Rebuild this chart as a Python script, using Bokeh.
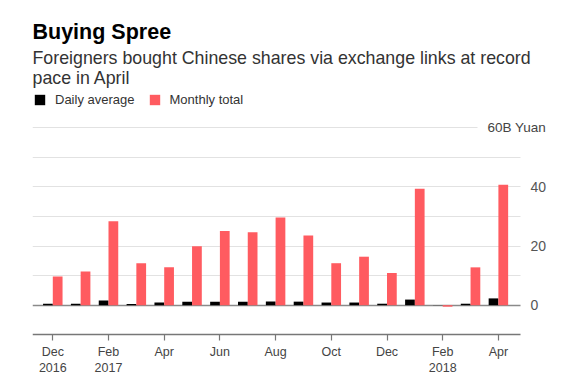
from bokeh.plotting import figure
from bokeh.models import (Range1d, FixedTicker, Label, Legend, LegendItem,
                          ColumnDataSource, Grid)
from bokeh.transform import dodge
from bokeh.embed import file_html
from bokeh.resources import INLINE

# ---- data (billion yuan) ----
months = ["Dec 2016", "Jan 2017", "Feb 2017", "Mar 2017", "Apr 2017", "May 2017",
          "Jun 2017", "Jul 2017", "Aug 2017", "Sep 2017", "Oct 2017", "Nov 2017",
          "Dec 2017", "Jan 2018", "Feb 2018", "Mar 2018", "Apr 2018"]
daily_average = [0.45, 0.45, 1.6, 0.4, 0.9, 1.2, 1.2, 1.2, 1.25, 1.2, 0.9, 0.9,
                 0.5, 1.9, -0.05, 0.5, 2.3]
monthly_total = [9.7, 11.4, 28.4, 14.2, 12.8, 19.9, 25.1, 24.7, 29.7, 23.6, 14.2,
                 16.4, 10.9, 39.4, -0.5, 12.8, 40.7]
x_tick_labels = {0: "Dec\n2016", 2: "Feb\n2017", 4: "Apr", 6: "Jun", 8: "Aug",
                 10: "Oct", 12: "Dec", 14: "Feb\n2018", 16: "Apr"}
y_tick_values = [0, 20, 40]
grid_values = [10, 20, 30, 40, 50, 60]

FONT = "Liberation Sans"
RED = "#ff5b60"

# ---- page geometry (pixels, page origin = canvas origin) ----
W, H = 565, 381
FRAME_L = 32                       # x of frame left
FRAME_R = W                        # frame runs to the canvas right edge
FRAME_B = H                        # frame runs to the canvas bottom edge
PLOT_R = 520                       # right end of gridlines / axis line
AXIS_Y = 334                       # y of bottom axis line
X0_PX, PX_PER_MONTH = 52.3, 27.85
Y0_PX, PX_PER_UNIT = 304.7, 2.957

def xdata(px):
    return (px - X0_PX) / PX_PER_MONTH

def ydata(py):
    return (Y0_PX - py) / PX_PER_UNIT

def sx(px):
    return px - FRAME_L

def sy(py):
    return FRAME_B - py

src = ColumnDataSource(dict(idx=list(range(len(months))), month=months,
                            daily=daily_average, total=monthly_total))

p = figure(width=W, height=H, output_backend="svg", toolbar_location=None,
           y_axis_location="right",
           x_range=Range1d(xdata(FRAME_L), xdata(FRAME_R)),
           y_range=Range1d(ydata(FRAME_B), ydata(0)),
           min_border_left=FRAME_L, min_border_right=0,
           min_border_top=0, min_border_bottom=0)
p.title.visible = False
p.outline_line_color = None
p.background_fill_color = "white"

black = p.vbar(x=dodge("idx", -0.175), top="daily", bottom=0, width=0.35,
               source=src, fill_color="black", line_color=None)
red = p.vbar(x=dodge("idx", 0.175), top="total", bottom=0, width=0.35,
             source=src, fill_color=RED, line_color=None)

# grid
cross = (xdata(FRAME_L), xdata(PLOT_R))
p.xgrid.visible = False
p.ygrid.ticker = FixedTicker(ticks=grid_values)
p.ygrid.grid_line_color = "#e2e2e2"
p.ygrid.grid_line_width = 1.2
p.ygrid.cross_bounds = cross
zero = Grid(dimension=1, ticker=FixedTicker(ticks=[0]), grid_line_color="#8a8a8a",
            grid_line_width=1.5, cross_bounds=cross)
p.add_layout(zero)

# right axis
ya = p.yaxis[0]
ya.fixed_location = xdata(PLOT_R)
ya.ticker = FixedTicker(ticks=y_tick_values)
ya.axis_line_color = None
ya.major_tick_line_color = None
ya.minor_tick_line_color = None
ya.major_tick_in = 0
ya.major_tick_out = 0
ya.major_label_standoff = 10
ya.major_label_text_font = FONT
ya.major_label_text_font_size = "14px"
ya.major_label_text_color = "#555555"

# bottom axis
xa = p.xaxis[0]
xa.fixed_location = ydata(AXIS_Y)
xa.bounds = cross
xa.ticker = FixedTicker(ticks=list(x_tick_labels.keys()))
xa.major_label_overrides = x_tick_labels
xa.axis_line_color = "#777777"
xa.axis_line_width = 1.5
xa.major_tick_line_color = "#777777"
xa.major_tick_line_width = 1.2
xa.major_tick_in = 0
xa.major_tick_out = 6
xa.minor_tick_line_color = None
xa.major_label_standoff = 4
xa.major_label_text_font = FONT
xa.major_label_text_font_size = "12.5px"
xa.major_label_text_line_height = 1.15
xa.major_label_text_color = "#444444"

p.add_layout(Label(x=sx(32), y=sy(31), x_units="screen", y_units="screen",
                   text="Buying Spree", text_font=FONT, text_font_style="bold",
                   text_font_size="21.5px", text_color="black", text_baseline="alphabetic"))
p.add_layout(Label(x=sx(32), y=sy(57.5), x_units="screen", y_units="screen",
                   text="Foreigners bought Chinese shares via exchange links at record",
                   text_font=FONT, text_font_size="17.8px", text_color="#333333",
                   text_baseline="alphabetic"))
p.add_layout(Label(x=sx(32), y=sy(77), x_units="screen", y_units="screen",
                   text="pace in April", text_font=FONT, text_font_size="17.8px",
                   text_color="#333333", text_baseline="alphabetic"))
p.add_layout(Label(x=sx(477), y=sy(127), x_units="screen", y_units="screen",
                   text="60B Yuan", text_font=FONT, text_font_size="13.5px",
                   text_color="#444444", text_baseline="middle",
                   background_fill_color="white", padding=10))

legend = Legend(items=[LegendItem(label="Daily average", renderers=[black]),
                       LegendItem(label="Monthly total", renderers=[red])],
                orientation="horizontal", location=(sx(33), sy(107)),
                glyph_width=13, glyph_height=13, label_height=13,
                label_standoff=9, spacing=13, padding=0, margin=0,
                border_line_color=None, background_fill_alpha=0,
                label_text_font=FONT, label_text_font_size="13px",
                label_text_color="#333333")
p.add_layout(legend)

open("out.html", "w").write(file_html(p, INLINE))
